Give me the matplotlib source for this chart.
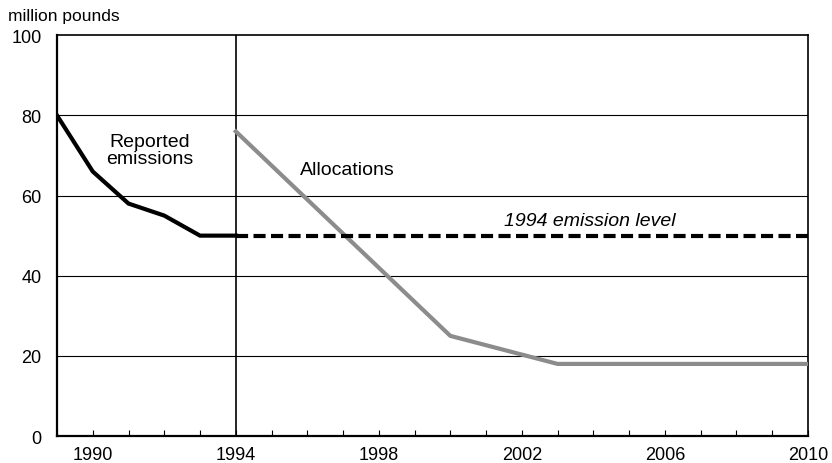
import matplotlib.pyplot as plt

plt.rcParams['font.family'] = ['Liberation Sans', 'DejaVu Sans']

# Data
rep_years = [1989, 1990, 1991, 1992, 1993, 1994]
rep_values = [80, 66, 58, 55, 50, 50]
alloc_years = [1994, 2000, 2003, 2010]
alloc_values = [76, 25, 18, 18]
level_years = [1994, 2010]
level_values = [50, 50]
xtick_years = [1990, 1994, 1998, 2002, 2006, 2010]
yticks = [0, 20, 40, 60, 80, 100]

fig = plt.figure(figsize=(8.32, 4.64), dpi=100)
ax = fig.add_axes([0.0685, 0.058, 0.9025, 0.864])

for y in yticks[1:-1]:
    ax.axhline(y, color='black', linewidth=0.8, zorder=1)
ax.axvline(1994, color='black', linewidth=1.2, zorder=1)

ax.plot(rep_years, rep_values, color='black', linewidth=3, solid_joinstyle='miter', zorder=3)
ax.plot(alloc_years, alloc_values, color='#8c8c8c', linewidth=3, zorder=3)
ax.plot(level_years, level_values, color='black', linewidth=3, linestyle=(0, (2.9, 1.3)), zorder=3)

ax.set_xlim(1989, 2010)
ax.set_ylim(0, 100)
ax.set_xticks(range(1989, 2011))
ax.set_xticklabels([str(y) if y in xtick_years else '' for y in range(1989, 2011)])
ax.set_yticks(yticks)
ax.tick_params(axis='x', direction='in', length=4, width=0.8, labelsize=13, pad=7)
ax.tick_params(axis='y', length=0, labelsize=13, pad=11)
for s in ax.spines.values():
    s.set_linewidth(1.2)
ax.spines['bottom'].set_linewidth(1.6)
ax.spines['left'].set_linewidth(1.6)

fig.text(0.01, 0.965, 'million pounds', fontsize=12.5, va='center')
ax.text(1991.6, 71.4, 'Reported\nemissions', fontsize=14, ha='center', va='center',
        multialignment='center', linespacing=0.95)
ax.text(1995.8, 66.6, 'Allocations', fontsize=14, va='center')
ax.text(2001.5, 53.9, '1994 emission level', fontsize=14, style='italic', va='center')

plt.savefig('out.png', dpi=100)
